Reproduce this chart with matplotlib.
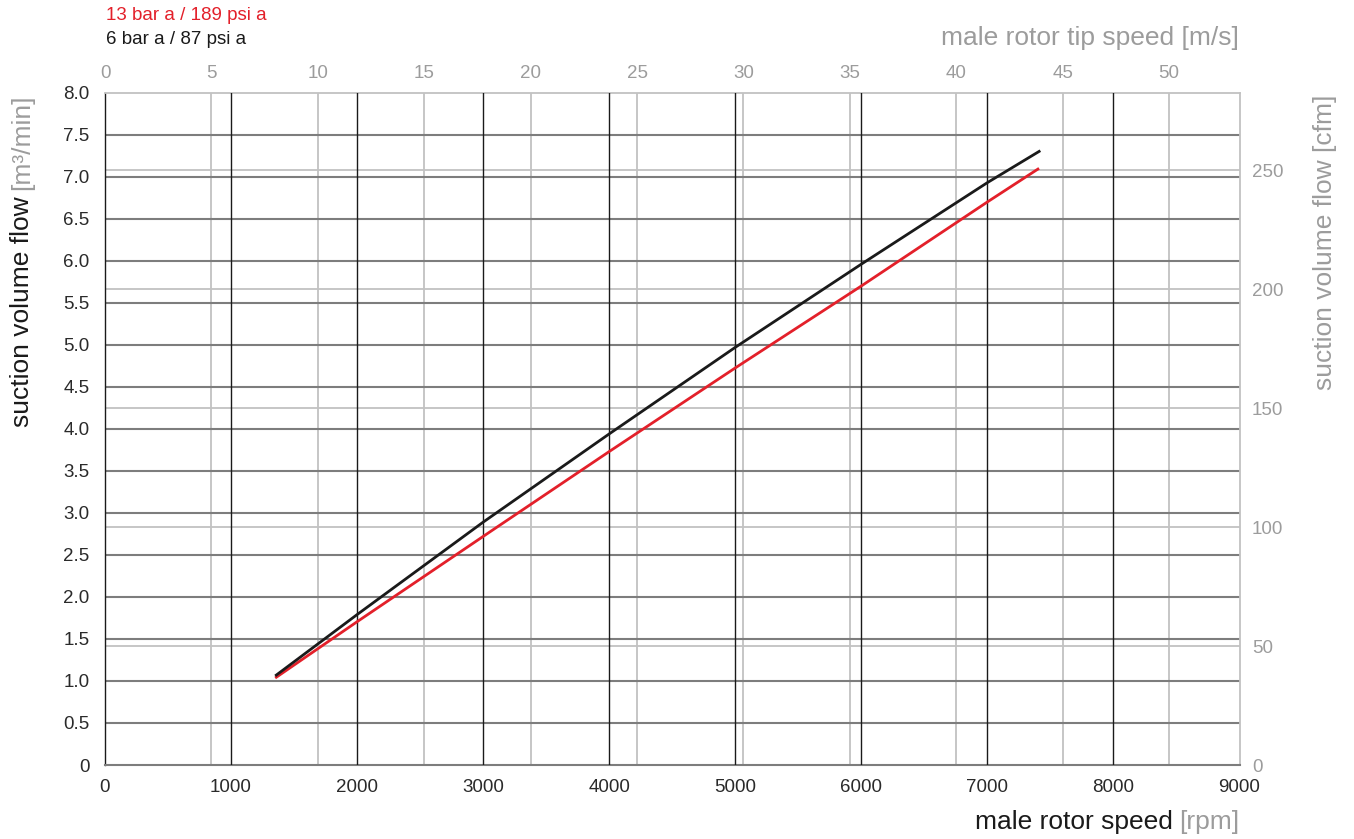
import matplotlib
matplotlib.use("Agg")
import matplotlib.pyplot as plt
import numpy as np

plt.rcParams["font.family"] = ["Liberation Sans", "DejaVu Sans"]

# data
rpm_6bar = [1350, 2000, 3000, 4000, 5000, 6000, 7000, 7420]
flow_6bar = [1.06, 1.79, 2.89, 3.94, 4.97, 5.96, 6.93, 7.31]
rpm_13bar = [1350, 2000, 3000, 4000, 5000, 6000, 7000, 7410]
flow_13bar = [1.035, 1.705, 2.72, 3.73, 4.725, 5.70, 6.70, 7.10]

label_13bar = "13 bar a / 189 psi a"
label_6bar = "6 bar a / 87 psi a"

rpm_ticks = np.arange(0, 9001, 1000)
flow_ticks = np.arange(0, 8.01, 0.5)
tip_ticks = np.arange(0, 51, 5)
cfm_ticks = np.arange(0, 251, 50)

TIP_PER_RPM = 0.005923      # m/s per rpm
CFM_PER_M3MIN = 35.3147

RED = "#e3202a"
BLACK = "#1a1a1a"
GREY_TXT = "#9c9c9c"
DARK_GRID = "#7d7d7d"
LIGHT_GRID = "#c2c2c2"

fig = plt.figure(figsize=(13.54, 8.39), dpi=100)
ax = fig.add_axes([105 / 1354, 74 / 839, 1134.5 / 1354, 672.3 / 839])
ax.set_xlim(0, 9000)
ax.set_ylim(0, 8)

# grid lines
for v in tip_ticks[1:]:
    ax.axvline(v / TIP_PER_RPM, color=LIGHT_GRID, lw=1.3, zorder=1)
for v in cfm_ticks[1:]:
    ax.axhline(v / CFM_PER_M3MIN, color=LIGHT_GRID, lw=1.3, zorder=1)
for v in flow_ticks[1:-1]:
    ax.axhline(v, color=DARK_GRID, lw=1.5, zorder=2)
for v in rpm_ticks[1:-1]:
    ax.axvline(v, color=BLACK, lw=1.0, zorder=3)

ax.plot(rpm_13bar, flow_13bar, color=RED, lw=2.0, zorder=5, solid_capstyle="butt")
ax.plot(rpm_6bar, flow_6bar, color=BLACK, lw=2.0, zorder=6, solid_capstyle="butt")

ax.spines["left"].set_color(BLACK)
ax.spines["left"].set_linewidth(1.0)
ax.spines["bottom"].set_color(DARK_GRID)
ax.spines["bottom"].set_linewidth(1.5)
ax.spines["top"].set_color(LIGHT_GRID)
ax.spines["top"].set_linewidth(1.3)
ax.spines["right"].set_color(LIGHT_GRID)
ax.spines["right"].set_linewidth(1.3)

ax.set_xticks(rpm_ticks)
ax.set_yticks(flow_ticks)
ax.set_yticklabels(["0"] + [f"{v:.1f}" for v in flow_ticks[1:]])
ax.tick_params(axis="x", length=0, pad=10, labelsize=13.5, labelcolor="#2a2a2a")
ax.tick_params(axis="y", length=0, pad=11, labelsize=13.5, labelcolor="#2a2a2a")

# secondary axes (labels only)
top = ax.twiny()
top.set_xlim(0, 9000 * TIP_PER_RPM)
top.set_xticks(tip_ticks)
top.tick_params(axis="x", length=0, pad=8, labelsize=13.5, labelcolor=GREY_TXT)
right = ax.twinx()
right.set_ylim(0, 8 * CFM_PER_M3MIN)
right.set_yticks(cfm_ticks)
right.tick_params(axis="y", length=0, pad=9, labelsize=13.5, labelcolor=GREY_TXT)
for a in (top, right):
    for s in a.spines.values():
        s.set_visible(False)

# legend texts
fig.text(106 / 1354, 1 - 16 / 839, label_13bar, color=RED, fontsize=13.5, va="center", ha="left")
fig.text(106 / 1354, 1 - 40 / 839, label_6bar, color=BLACK, fontsize=13.5, va="center", ha="left")

# axis titles
fig.text(1239 / 1354, 1 - 38 / 839, "male rotor tip speed [m/s]", color=GREY_TXT,
         fontsize=19, va="center", ha="right")
fig.text(1325 / 1354, 1 - 95 / 839, "suction volume flow [cfm]", color=GREY_TXT,
         fontsize=19, rotation=90, va="top", ha="center")

fig.canvas.draw()
renderer = fig.canvas.get_renderer()

# bottom label, two colours
t1 = fig.text(1239 / 1354, 1 - 822 / 839, "[rpm]", color=GREY_TXT, fontsize=19,
              va="center", ha="right")
w1 = t1.get_window_extent(renderer).width
fig.text((1239 - w1 - 6) / 1354, 1 - 822 / 839, "male rotor speed", color=BLACK,
         fontsize=19, va="center", ha="right")

# left label, two colours, rotated
t2 = fig.text(22 / 1354, 1 - 95 / 839, "[m\u00b3/min]", color=GREY_TXT, fontsize=19,
              rotation=90, va="top", ha="center")
h2 = t2.get_window_extent(renderer).height
fig.text(22 / 1354, 1 - (95 + h2 + 6) / 839, "suction volume flow", color=BLACK,
         fontsize=19, rotation=90, va="top", ha="center")

fig.savefig("out.png", dpi=100)
